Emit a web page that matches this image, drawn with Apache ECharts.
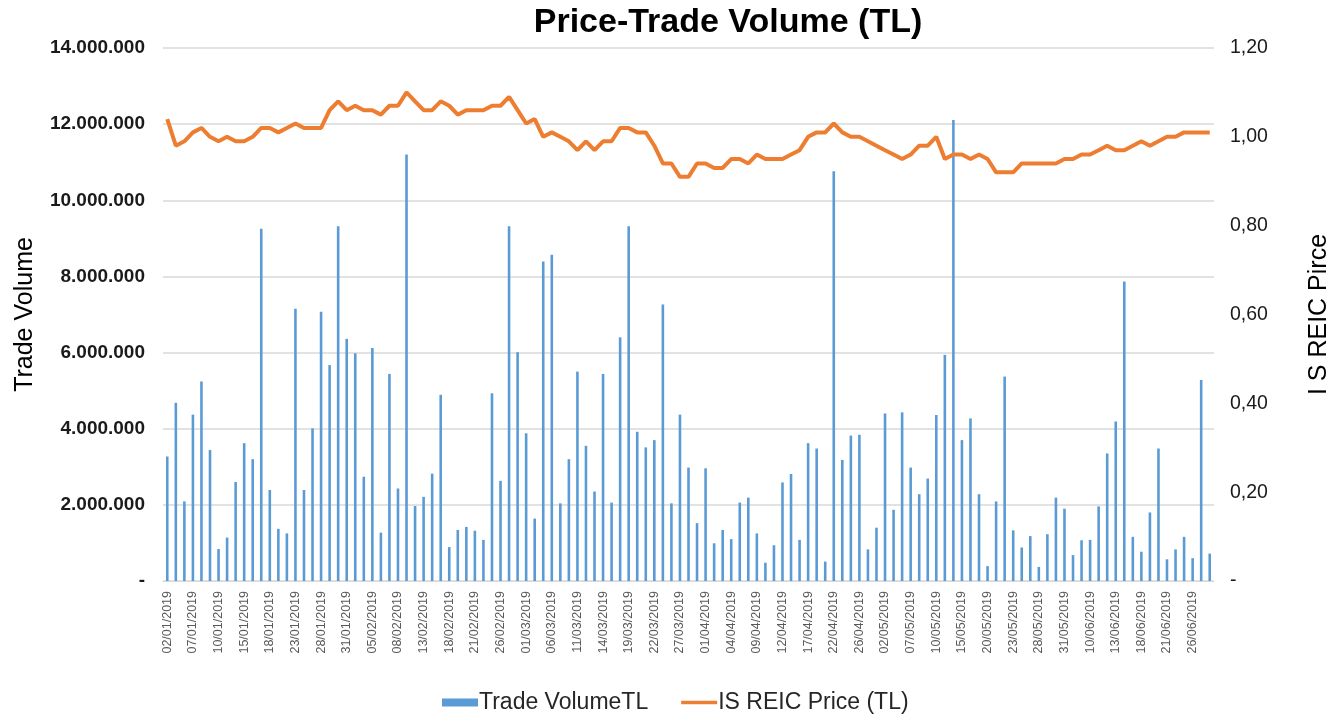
<!DOCTYPE html>
<html>
<head>
<meta charset="utf-8">
<script src="https://cdn.jsdelivr.net/npm/echarts@6/dist/echarts.min.js"></script>
<style>html,body{margin:0;padding:0;background:#fff;}#c{width:1330px;height:723px;}</style>
</head>
<body>
<div id="c"></div>
<script>
const dates = [
'02/01/2019','03/01/2019','04/01/2019','07/01/2019','08/01/2019','09/01/2019','10/01/2019','11/01/2019','14/01/2019','15/01/2019','16/01/2019','17/01/2019','18/01/2019','21/01/2019','22/01/2019','23/01/2019','24/01/2019','25/01/2019','28/01/2019','29/01/2019','30/01/2019','31/01/2019',
'01/02/2019','04/02/2019','05/02/2019','06/02/2019','07/02/2019','08/02/2019','11/02/2019','12/02/2019','13/02/2019','14/02/2019','15/02/2019','18/02/2019','19/02/2019','20/02/2019','21/02/2019','22/02/2019','25/02/2019','26/02/2019','27/02/2019','28/02/2019',
'01/03/2019','04/03/2019','05/03/2019','06/03/2019','07/03/2019','08/03/2019','11/03/2019','12/03/2019','13/03/2019','14/03/2019','15/03/2019','18/03/2019','19/03/2019','20/03/2019','21/03/2019','22/03/2019','25/03/2019','26/03/2019','27/03/2019','28/03/2019','29/03/2019',
'01/04/2019','02/04/2019','03/04/2019','04/04/2019','05/04/2019','08/04/2019','09/04/2019','10/04/2019','11/04/2019','12/04/2019','15/04/2019','16/04/2019','17/04/2019','18/04/2019','19/04/2019','22/04/2019','24/04/2019','25/04/2019','26/04/2019','29/04/2019','30/04/2019',
'02/05/2019','03/05/2019','06/05/2019','07/05/2019','08/05/2019','09/05/2019','10/05/2019','13/05/2019','14/05/2019','15/05/2019','16/05/2019','17/05/2019','20/05/2019','21/05/2019','22/05/2019','23/05/2019','24/05/2019','27/05/2019','28/05/2019','29/05/2019','30/05/2019','31/05/2019',
'03/06/2019','07/06/2019','10/06/2019','11/06/2019','12/06/2019','13/06/2019','14/06/2019','17/06/2019','18/06/2019','19/06/2019','20/06/2019','21/06/2019','24/06/2019','25/06/2019','26/06/2019','27/06/2019','28/06/2019'
];

const tradeVolume = [
3270000,4680000,2090000,4370000,5240000,3440000,840000,1140000,2600000,3620000,3200000,9250000,2390000,1370000,1250000,7150000,2390000,4010000,7070000,5670000,9320000,
6360000,5980000,2740000,6120000,1270000,5440000,2430000,11200000,1970000,2210000,2820000,4890000,890000,1340000,1420000,1320000,1080000,4930000,2630000,9320000,6010000,
3880000,1640000,8390000,8570000,2040000,3200000,5500000,3550000,2350000,5440000,2060000,6400000,9320000,3920000,3510000,3700000,7260000,2040000,4370000,2980000,1520000,
2960000,990000,1340000,1100000,2060000,2190000,1250000,480000,940000,2590000,2810000,1080000,3620000,3480000,510000,10760000,3180000,3820000,3840000,830000,1400000,
4400000,1870000,4430000,2980000,2280000,2690000,4360000,5940000,12110000,3700000,4270000,2280000,390000,2090000,5370000,1330000,880000,1180000,370000,1230000,2190000,
1900000,680000,1070000,1080000,1960000,3350000,4190000,7870000,1160000,770000,1800000,3480000,570000,830000,1160000,600000,5280000,720000
];

const price = [
1.04,0.98,0.99,1.01,1.02,1.00,0.99,1.00,0.99,0.99,1.00,1.02,1.02,1.01,1.02,1.03,1.02,1.02,1.02,1.06,1.08,
1.06,1.07,1.06,1.06,1.05,1.07,1.07,1.10,1.08,1.06,1.06,1.08,1.07,1.05,1.06,1.06,1.06,1.07,1.07,1.09,1.06,
1.03,1.04,1.00,1.01,1.00,0.99,0.97,0.99,0.97,0.99,0.99,1.02,1.02,1.01,1.01,0.98,0.94,0.94,0.91,0.91,0.94,
0.94,0.93,0.93,0.95,0.95,0.94,0.96,0.95,0.95,0.95,0.96,0.97,1.00,1.01,1.01,1.03,1.01,1.00,1.00,0.99,0.98,
0.97,0.96,0.95,0.96,0.98,0.98,1.00,0.95,0.96,0.96,0.95,0.96,0.95,0.92,0.92,0.92,0.94,0.94,0.94,0.94,0.94,
0.95,0.95,0.96,0.96,0.97,0.98,0.97,0.97,0.98,0.99,0.98,0.99,1.00,1.00,1.01,1.01,1.01,1.01
];

const titleText = 'Price-Trade Volume (TL)';
const leftAxisName = 'Trade Volume';
const rightAxisName = 'I S REIC Pirce';
const barName = 'Trade VolumeTL';
const lineName = 'IS REIC Price (TL)';

function fmtThousands(v) {
  if (v === 0) return '-';
  return String(Math.round(v)).replace(/\B(?=(\d{3})+(?!\d))/g, '.');
}
function fmtPrice(v) {
  if (Math.abs(v) < 1e-9) return '-';
  return v.toFixed(2).replace('.', ',');
}

const chart = echarts.init(document.getElementById('c'), null, {renderer: 'canvas'});
const FONT = '"Liberation Sans", Arial, sans-serif';
chart.setOption({
  animation: false,
  backgroundColor: '#ffffff',
  textStyle: {fontFamily: FONT},
  title: {
    text: titleText,
    left: 723, top: 1,
    textAlign: 'center',
    textStyle: {fontFamily: FONT, fontSize: 34, fontWeight: 'bold', color: '#000000'}
  },
  legend: {
    bottom: 4,
    left: 437,
    itemGap: 33,
    itemWidth: 36,
    itemHeight: 8,
    textStyle: {fontFamily: FONT, fontSize: 23, color: '#262626', padding: [0,0,0,-4]},
    data: [
      {name: barName, icon: 'rect'},
      {name: lineName, icon: 'path://M0 0H40V4H0Z'}
    ]
  },
  grid: {left: 163, right: 116, top: 48, bottom: 142, outerBoundsMode: 'none', containLabel: false},
  xAxis: {
    type: 'category',
    data: dates,
    boundaryGap: true,
    axisLine: {show: true, lineStyle: {color: '#D9D9D9', width: 1}},
    axisTick: {show: false},
    axisLabel: {
      interval: 2,
      rotate: 90,
      margin: 10,
      fontSize: 12.5,
      color: '#595959',
      fontFamily: FONT
    }
  },
  yAxis: [
    {
      type: 'value',
      min: 0, max: 14000000, interval: 2000000,
      name: leftAxisName,
      nameLocation: 'middle',
      nameRotate: 90,
      nameGap: 125,
      nameTextStyle: {fontFamily: FONT, fontSize: 25, color: '#000000'},
      axisLine: {show: false},
      axisTick: {show: false},
      splitLine: {show: true, lineStyle: {color: '#D9D9D9', width: 1.5}},
      axisLabel: {
        formatter: fmtThousands,
        fontSize: 19, fontWeight: 'bold', color: '#1a1a1a', margin: 18, fontFamily: FONT
      }
    },
    {
      type: 'value',
      min: 0, max: 1.2, interval: 0.2,
      name: rightAxisName,
      nameLocation: 'middle',
      nameRotate: 90,
      nameGap: 93,
      nameTextStyle: {fontFamily: FONT, fontSize: 25, color: '#000000'},
      axisLine: {show: false},
      axisTick: {show: false},
      splitLine: {show: false},
      axisLabel: {
        formatter: fmtPrice,
        fontSize: 19.5, color: '#1a1a1a', margin: 16, fontFamily: FONT
      }
    }
  ],
  series: [
    {
      name: barName,
      type: 'bar',
      yAxisIndex: 0,
      data: tradeVolume,
      barWidth: 2.6,
      itemStyle: {color: '#5B9BD5'}
    },
    {
      name: lineName,
      type: 'line',
      yAxisIndex: 1,
      data: price,
      symbol: 'none',
      smooth: false,
      lineStyle: {color: '#ED7D31', width: 4},
      itemStyle: {color: '#ED7D31'}
    }
  ]
});
</script>
</body>
</html>
